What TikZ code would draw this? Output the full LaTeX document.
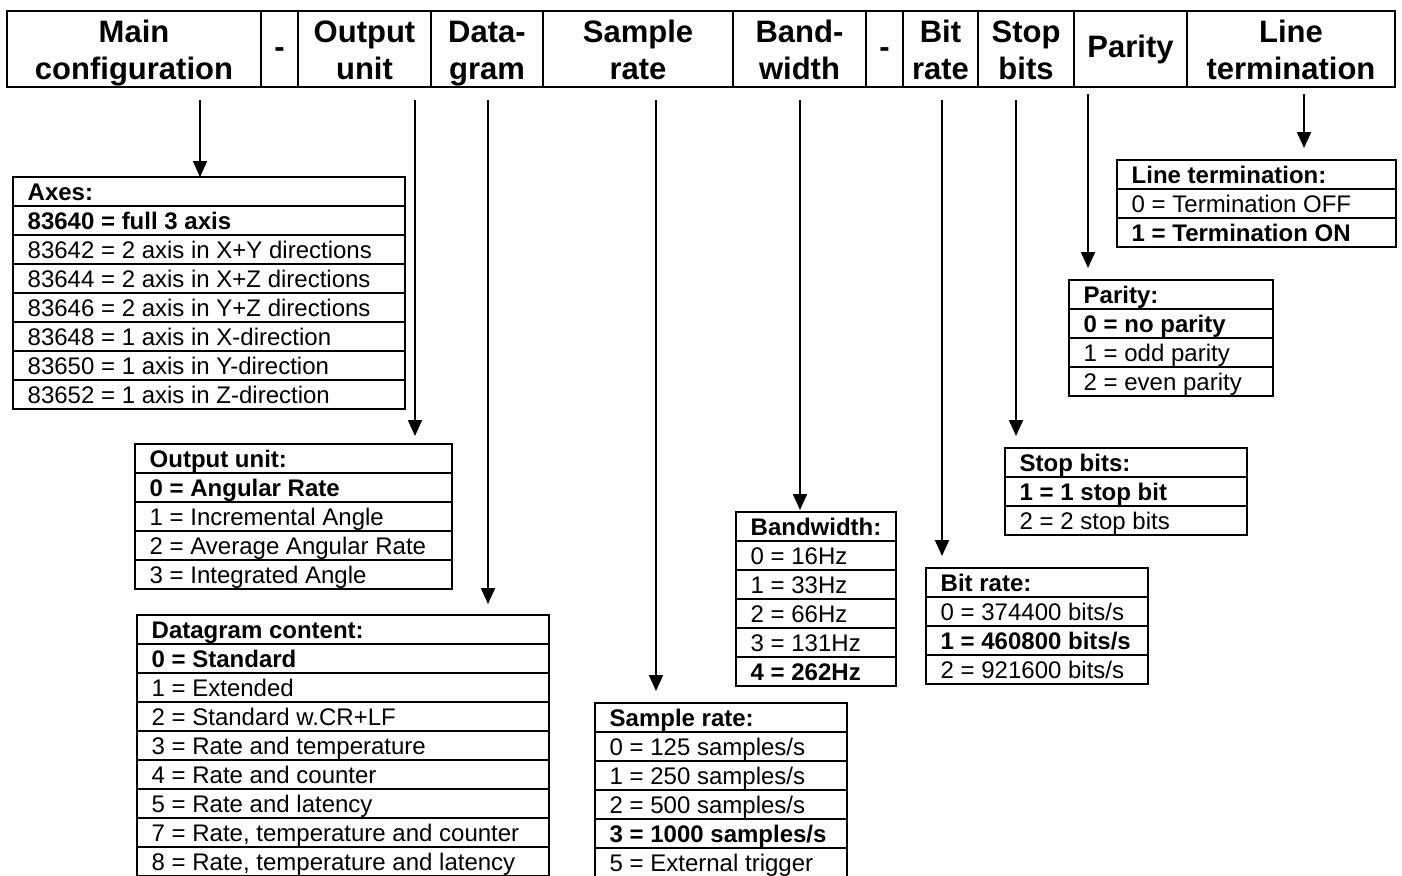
\documentclass[tikz,border=0pt]{standalone}
\usepackage{fontspec}
\setmainfont{Liberation Sans}
\usetikzlibrary{arrows.meta}

\tikzset{
  obox/.style={draw, rectangle, anchor=north west, inner sep=0pt, outer sep=0pt, line width=2pt},
  rtxt/.style={anchor=base west, inner sep=0pt, font=\fontsize{24}{28}\selectfont},
  htxt/.style={anchor=base, inner sep=0pt, font=\fontsize{31}{36}\selectfont\bfseries},
  arr/.style={-{Triangle[width=14pt,length=16pt]}, line width=2pt},
  rule/.style={line width=2pt}
}

\newcommand\optbox[6]{%
  \node[obox, minimum width={(#3-#2)*1pt}, minimum height={#5*29pt}] (#1) at (#2,#4) {};
  \pgfmathtruncatemacro\nlast{#5-1}%
  \foreach \k in {1,...,\nlast} {\draw[rule] (#2,#4+\k*29) -- (#3,#4+\k*29);}
  \foreach \r [count=\i from 0] in {#6} {\node[rtxt] (#1-\i) at (#2+14.5, #4+\i*29+23.5) {\r};}
}

\begin{document}
\begin{tikzpicture}[x=1pt,y=-1pt]
\useasboundingbox (0,0) rectangle (1402,875);
\fill[white] (0,0) rectangle (1402,875);

% header
\node[obox, line width=2.5pt, minimum width=1388pt, minimum height=76pt] (header) at (7,11) {};
\foreach \x in {261,298,431,543,733,866,903,978,1074,1187}
  {\draw[rule] (\x,11) -- (\x,87);}

\node[htxt] (hMainA) at (134,43) {Main};
\node[htxt] (hMainB) at (134,79) {configuration};
\node[htxt] (hDashA) at (279.5,58) {-};
\node[htxt] (hOutA) at (364.5,43) {Output};
\node[htxt] (hOutB) at (364.5,79) {unit};
\node[htxt] (hDatA) at (487,43) {Data-};
\node[htxt] (hDatB) at (487,79) {gram};
\node[htxt] (hSamA) at (638,43) {Sample};
\node[htxt] (hSamB) at (638,79) {rate};
\node[htxt] (hBanA) at (799.5,43) {Band-};
\node[htxt] (hBanB) at (799.5,79) {width};
\node[htxt] (hDashB) at (884.5,58) {-};
\node[htxt] (hBitA) at (940.5,43) {Bit};
\node[htxt] (hBitB) at (940.5,79) {rate};
\node[htxt] (hStpA) at (1026,43) {Stop};
\node[htxt] (hStpB) at (1026,79) {bits};
\node[htxt] (hPar) at (1130.5,58) {Parity};
\node[htxt] (hLinA) at (1291,43) {Line};
\node[htxt] (hLinB) at (1291,79) {termination};

% option boxes
\optbox{axes}{13}{405}{177}{8}{{\textbf{Axes:}},{\textbf{83640 = full 3 axis}},83642 = 2 axis in X+Y directions,83644 = 2 axis in X+Z directions,83646 = 2 axis in Y+Z directions,83648 = 1 axis in X-direction,83650 = 1 axis in Y-direction,83652 = 1 axis in Z-direction}
\optbox{outp}{135}{452}{444}{5}{{\textbf{Output unit:}},{\textbf{0 = Angular Rate}},1 = Incremental Angle,2 = Average Angular Rate,3 = Integrated Angle}
\optbox{datg}{137}{549}{615}{9}{{\textbf{Datagram content:}},{\textbf{0 = Standard}},1 = Extended,2 = Standard w.CR+LF,3 = Rate and temperature,4 = Rate and counter,5 = Rate and latency,{7 = Rate, temperature and counter},{8 = Rate, temperature and latency}}
\optbox{samp}{595}{847}{703}{6}{{\textbf{Sample rate:}},0 = 125 samples/s,1 = 250 samples/s,2 = 500 samples/s,{\textbf{3 = 1000 samples/s}},5 = External trigger}
\optbox{band}{736}{896}{512}{6}{{\textbf{Bandwidth:}},0 = 16Hz,1 = 33Hz,2 = 66Hz,3 = 131Hz,{\textbf{4 = 262Hz}}}
\optbox{bitr}{926}{1148}{568}{4}{{\textbf{Bit rate:}},0 = 374400 bits/s,{\textbf{1 = 460800 bits/s}},2 = 921600 bits/s}
\optbox{stop}{1005}{1247}{448}{3}{{\textbf{Stop bits:}},{\textbf{1 = 1 stop bit}},2 = 2 stop bits}
\optbox{pari}{1069}{1273}{280}{4}{{\textbf{Parity:}},{\textbf{0 = no parity}},1 = odd parity,2 = even parity}
\optbox{line}{1117}{1396}{160}{3}{{\textbf{Line termination:}},0 = Termination OFF,{\textbf{1 = Termination ON}}}

% arrows
\coordinate (sMain) at (200,100);
\coordinate (sOut) at (415,100);
\coordinate (sDat) at (488,100);
\coordinate (sSam) at (656,100);
\coordinate (sBan) at (800,100);
\coordinate (sBit) at (942,100);
\coordinate (sStp) at (1016,100);
\coordinate (sPar) at (1088,94);
\coordinate (sLin) at (1304,94);

\draw[arr] (sMain) -- (sMain |- axes.north);
\draw[arr, shorten >=8pt] (sOut) -- (sOut |- outp.north);
\draw[arr, shorten >=11pt] (sDat) -- (sDat |- datg.north);
\draw[arr, shorten >=12pt] (sSam) -- (sSam |- samp.north);
\draw[arr, shorten >=2pt] (sBan) -- (sBan |- band.north);
\draw[arr, shorten >=12pt] (sBit) -- (sBit |- bitr.north);
\draw[arr, shorten >=12pt] (sStp) -- (sStp |- stop.north);
\draw[arr, shorten >=12pt] (sPar) -- (sPar |- pari.north);
\draw[arr, shorten >=12pt] (sLin) -- (sLin |- line.north);
\end{tikzpicture}
\end{document}
